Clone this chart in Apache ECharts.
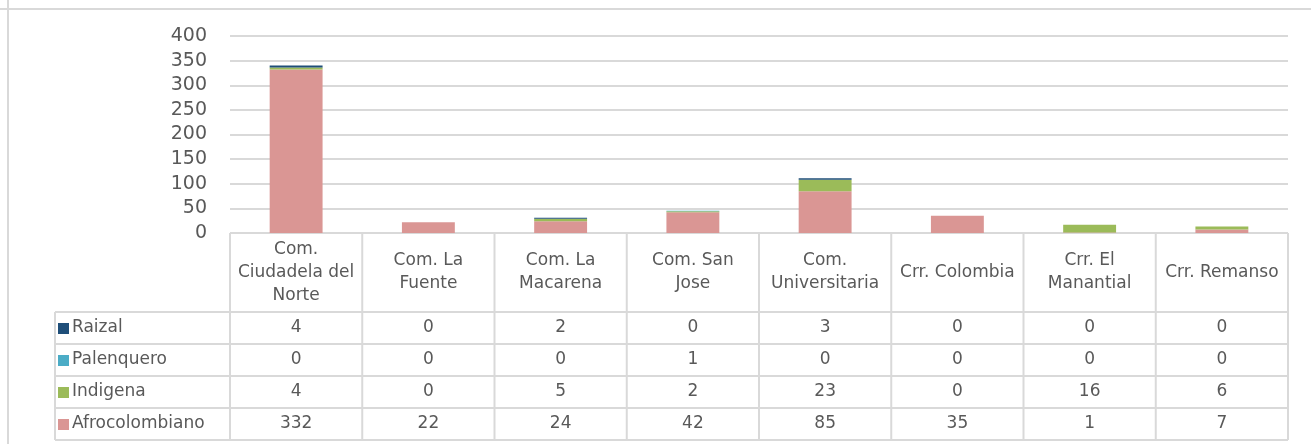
<!DOCTYPE html>
<html>
<head>
<meta charset="utf-8">
<script src="https://cdn.jsdelivr.net/npm/echarts@6/dist/echarts.min.js"></script>
<style>
  html, body { margin: 0; padding: 0; background: #fff; }
  #chart { width: 1311px; height: 444px; }
</style>
</head>
<body>
<div id="chart"></div>
<script>
// comunas / corregimientos
const categories = [
  'Com.\nCiudadela del\nNorte', 'Com. La\nFuente', 'Com. La\nMacarena', 'Com. San\nJose',
  'Com.\nUniversitaria', 'Crr. Colombia', 'Crr. El\nManantial', 'Crr. Remanso'
];
const raizal = [4, 0, 2, 0, 3, 0, 0, 0];
const palenquero = [0, 0, 0, 1, 0, 0, 0, 0];
const indigena = [4, 0, 5, 2, 23, 0, 16, 6];
const afrocolombiano = [332, 22, 24, 42, 85, 35, 1, 7];
const yTicks = [0, 50, 100, 150, 200, 250, 300, 350, 400];

// rows of the data table, top to bottom
const rows = [
  { name: 'Raizal', data: raizal, color: '#1f4e79' },
  { name: 'Palenquero', data: palenquero, color: '#4bacc6' },
  { name: 'Indigena', data: indigena, color: '#9bbb59' },
  { name: 'Afrocolombiano', data: afrocolombiano, color: '#da9694' }
];

const W = 1311, H = 444;
const gLeft = 230, gRight = 1288, gTop = 36, gBottom = 233;
const headerBottom = 312;
const rowLines = [312, 344, 376, 408, 440];
const legendLeft = 55;
const font = '"DejaVu Sans", sans-serif';
const txt = '#595959';
const border = '#d9d9d9';

const colW = (gRight - gLeft) / categories.length;

// stacked series: bottom first
const series = rows.slice().reverse().map(r => ({
  name: r.name,
  type: 'bar',
  stack: 'total',
  barWidth: '40%',
  itemStyle: { color: r.color },
  data: r.data
}));

// extra x axes used as the value rows of the table
const xAxes = [{
  type: 'category',
  data: categories,
  axisLine: { show: false },
  axisTick: { show: false },
  axisLabel: {
    interval: 0, color: txt, fontSize: 17, fontFamily: font,
    lineHeight: 23, verticalAlign: 'middle', margin: (headerBottom - gBottom) / 2
  }
}];
rows.forEach((r, i) => {
  const center = (rowLines[i] + rowLines[i + 1]) / 2;
  xAxes.push({
    type: 'category',
    gridIndex: 0,
    position: 'bottom',
    data: r.data.map(String),
    axisLine: { show: false },
    axisTick: { show: false },
    axisLabel: {
      interval: 0, color: txt, fontSize: 17, fontFamily: font,
      verticalAlign: 'middle', margin: center - gBottom
    }
  });
});

// table borders + legend column
const graphics = [];
const line = (x1, y1, x2, y2) => graphics.push({
  type: 'line', silent: true,
  shape: { x1, y1, x2, y2 },
  style: { stroke: border, lineWidth: 2 }
});
line(8, 0, 8, H);
line(0, 9, W, 9);
line(gLeft, gBottom, gRight, gBottom);
rowLines.forEach(y => line(legendLeft, y, gRight, y));
for (let i = 0; i <= categories.length; i++) {
  const x = gLeft + i * colW;
  line(x, gBottom, x, rowLines[rowLines.length - 1]);
}
line(legendLeft, headerBottom, legendLeft, rowLines[rowLines.length - 1]);
rows.forEach((r, i) => {
  const center = (rowLines[i] + rowLines[i + 1]) / 2;
  graphics.push({
    type: 'rect', silent: true,
    shape: { x: 58, y: center - 5, width: 11, height: 11 },
    style: { fill: r.color }
  });
  graphics.push({
    type: 'text', silent: true,
    x: 72, y: center,
    style: { text: r.name, fill: txt, font: '17px ' + font, textVerticalAlign: 'middle' }
  });
});

const chart = echarts.init(document.getElementById('chart'));
chart.setOption({
  animation: false,
  backgroundColor: '#fff',
  grid: { left: gLeft, right: W - gRight, top: gTop, bottom: H - gBottom, containLabel: false },
  xAxis: xAxes,
  yAxis: {
    type: 'value',
    min: yTicks[0],
    max: yTicks[yTicks.length - 1],
    interval: 50,
    axisLine: { show: false },
    axisTick: { show: false },
    axisLabel: { color: txt, fontSize: 19, fontFamily: font, margin: 23 },
    splitLine: { lineStyle: { color: border, width: 2 } }
  },
  series,
  graphic: graphics
});
window.addEventListener('resize', () => chart.resize());
</script>
</body>
</html>
